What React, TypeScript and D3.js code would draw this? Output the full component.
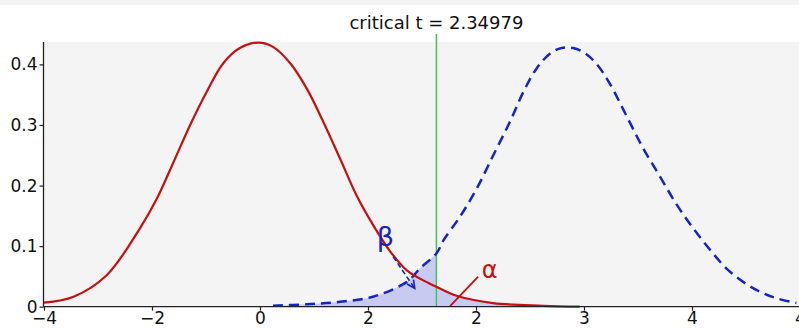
import React, { useEffect, useRef } from 'react';
import * as d3 from 'd3';

// values (x in t units, y = density)
const nullX = [-3.0, -2.59, -2.13, -1.67, -1.43, -1.2, -0.97, -0.74, -0.51, -0.28, -0.02, 0.18, 0.42, 0.65, 0.88, 1.11, 1.34, 1.57, 1.81, 2.04, 2.34, 2.45, 2.73, 3.24, 3.93, 4.44];
const nullY = [0.0066, 0.0165, 0.052, 0.129, 0.179, 0.239, 0.3, 0.355, 0.402, 0.427, 0.436, 0.429, 0.402, 0.36, 0.305, 0.245, 0.184, 0.135, 0.091, 0.06, 0.039, 0.033, 0.018, 0.006, 0.0015, 0];

const altX = [0.18, 0.65, 1.11, 1.57, 2.04, 2.22, 2.45, 2.55, 2.78, 3.01, 3.24, 3.47, 3.66, 3.84, 4.03, 4.19, 4.35, 4.52, 4.68, 4.86, 5.09, 5.32, 5.56, 5.79, 6.02, 6.25, 6.48, 6.71, 6.94, 7.17, 7.45];
const altY = [0.0017, 0.004, 0.008, 0.0165, 0.041, 0.063, 0.088, 0.11, 0.149, 0.195, 0.25, 0.305, 0.355, 0.393, 0.418, 0.427, 0.427, 0.418, 0.4, 0.368, 0.315, 0.262, 0.214, 0.168, 0.129, 0.094, 0.063, 0.041, 0.025, 0.014, 0.006];

const critical = 2.45;
const titleText = 'critical t = 2.34979';

const xTicks = [-3, -1.5, 0, 1.5, 3, 4.5, 6, 7.5];
const xTickLabels = ['\u22124', '\u22122', '0', '2', '2', '3', '4', '4'];
const yTicks = [0, 0.1, 0.2, 0.3, 0.4];
const yTickLabels = ['0', '0.1', '0.2', '0.3', '0.4'];

const App = () => {
  const svgRef = useRef<SVGSVGElement>(null);

  useEffect(() => {
    if (!svgRef.current) return;
    const svg = d3.select(svgRef.current);
    svg.selectAll('*').remove();

    const W = 799, H = 330;
    const left = 43.5, top = 42, bottom = 306.7, right = 799;

    const x = d3.scaleLinear().domain([-3, 7.5]).range([44, 800]);
    const y = d3.scaleLinear().domain([0, 0.437]).range([bottom, top]);

    svg.append('rect').attr('width', W).attr('height', H).attr('fill', '#fff');
    svg.append('rect').attr('width', W).attr('height', 5).attr('fill', '#f3f3f3');
    svg.append('rect')
      .attr('x', left).attr('y', top)
      .attr('width', right - left).attr('height', bottom - top)
      .attr('fill', '#f4f4f4');

    const nullPts = nullX.map((v, i) => [v, nullY[i]] as [number, number]);
    const altPts = altX.map((v, i) => [v, altY[i]] as [number, number]);

    const curve = d3.curveCatmullRom.alpha(0.5);
    const area = d3.area<[number, number]>()
      .x(d => x(d[0])).y0(y(0)).y1(d => y(d[1]))
      .curve(curve);
    const line = d3.line<[number, number]>()
      .x(d => x(d[0])).y(d => y(d[1]))
      .curve(curve);

    // beta region (alternative below critical) and alpha tail
    svg.append('path')
      .datum(altPts.filter(d => d[0] <= critical))
      .attr('d', area)
      .attr('fill', '#c9caf2');
    svg.append('path')
      .datum(nullPts.filter(d => d[0] >= critical))
      .attr('d', area)
      .attr('fill', '#c9caf2');

    // critical line
    svg.append('line')
      .attr('x1', x(critical)).attr('x2', x(critical))
      .attr('y1', 34).attr('y2', bottom)
      .attr('stroke', '#3cc45a').attr('stroke-width', 1.5);

    svg.append('path')
      .datum(altPts)
      .attr('d', line)
      .attr('fill', 'none')
      .attr('stroke', '#1524c4')
      .attr('stroke-width', 2.5)
      .attr('stroke-dasharray', '10,6');

    svg.append('path')
      .datum(nullPts)
      .attr('d', line)
      .attr('fill', 'none')
      .attr('stroke', '#c41010')
      .attr('stroke-width', 2.2);

    // annotations
    const arrowFrom: [number, number] = [1.85, 0.0825];
    const arrowTo: [number, number] = [2.15, 0.03];
    const ax1 = x(arrowFrom[0]), ay1 = y(arrowFrom[1]);
    const ax2 = x(arrowTo[0]), ay2 = y(arrowTo[1]);
    svg.append('line')
      .attr('x1', ax1).attr('y1', ay1).attr('x2', ax2).attr('y2', ay2)
      .attr('stroke', '#1524c4').attr('stroke-width', 1.6)
      .attr('stroke-dasharray', '5,3');
    const ang = Math.atan2(ay2 - ay1, ax2 - ax1);
    const hl = 9;
    svg.append('path')
      .attr('d', `M${ax2 - hl * Math.cos(ang - 0.45)},${ay2 - hl * Math.sin(ang - 0.45)}L${ax2},${ay2}L${ax2 - hl * Math.cos(ang + 0.45)},${ay2 - hl * Math.sin(ang + 0.45)}`)
      .attr('fill', 'none').attr('stroke', '#1524c4').attr('stroke-width', 1.6);

    svg.append('text')
      .attr('x', x(1.62)).attr('y', y(0.1))
      .attr('font-family', 'DejaVu Sans').attr('font-size', 27)
      .attr('fill', '#1524c4')
      .text('\u03b2');

    svg.append('line')
      .attr('x1', x(2.64)).attr('y1', y(0.001))
      .attr('x2', x(3.03)).attr('y2', y(0.0495))
      .attr('stroke', '#c41010').attr('stroke-width', 1.8);
    svg.append('text')
      .attr('x', x(3.08)).attr('y', y(0.047))
      .attr('font-family', 'DejaVu Sans').attr('font-size', 24)
      .attr('fill', '#c41010')
      .text('\u03b1');

    // axes
    const xAxis = svg.append('g')
      .attr('transform', `translate(0,${bottom})`)
      .call(d3.axisBottom(x).tickValues(xTicks).tickSize(4).tickSizeOuter(0)
        .tickFormat((_d, i) => xTickLabels[i]));
    xAxis.select('.domain').attr('stroke', '#222').attr('stroke-width', 1.3)
      .attr('d', `M${left},0H${right}`);
    xAxis.selectAll('.tick line').attr('stroke', '#222').attr('stroke-width', 1.2);
    xAxis.selectAll('.tick text')
      .attr('font-family', 'DejaVu Sans').attr('font-size', 17)
      .attr('fill', '#111').attr('dy', '0.72em').attr('y', 5);

    const yAxis = svg.append('g')
      .attr('transform', `translate(${left},0)`)
      .call(d3.axisLeft(y).tickValues(yTicks).tickSize(4).tickSizeOuter(0)
        .tickFormat((_d, i) => yTickLabels[i]));
    yAxis.select('.domain').attr('stroke', '#222').attr('stroke-width', 1.3)
      .attr('d', `M0,${top}V${bottom}`);
    yAxis.selectAll('.tick line').attr('stroke', '#222').attr('stroke-width', 1.2);
    yAxis.selectAll('.tick text')
      .attr('font-family', 'DejaVu Sans').attr('font-size', 17)
      .attr('fill', '#111').attr('x', -6);

    svg.append('text')
      .attr('x', x(critical)).attr('y', 29)
      .attr('text-anchor', 'middle')
      .attr('font-family', 'DejaVu Sans').attr('font-size', 18)
      .attr('fill', '#111')
      .text(titleText);
  }, []);

  return (
    <svg
      ref={svgRef}
      width={799}
      height={330}
      style={{ position: 'absolute', left: 0, top: 0, display: 'block' }}
    />
  );
};

export default App;
